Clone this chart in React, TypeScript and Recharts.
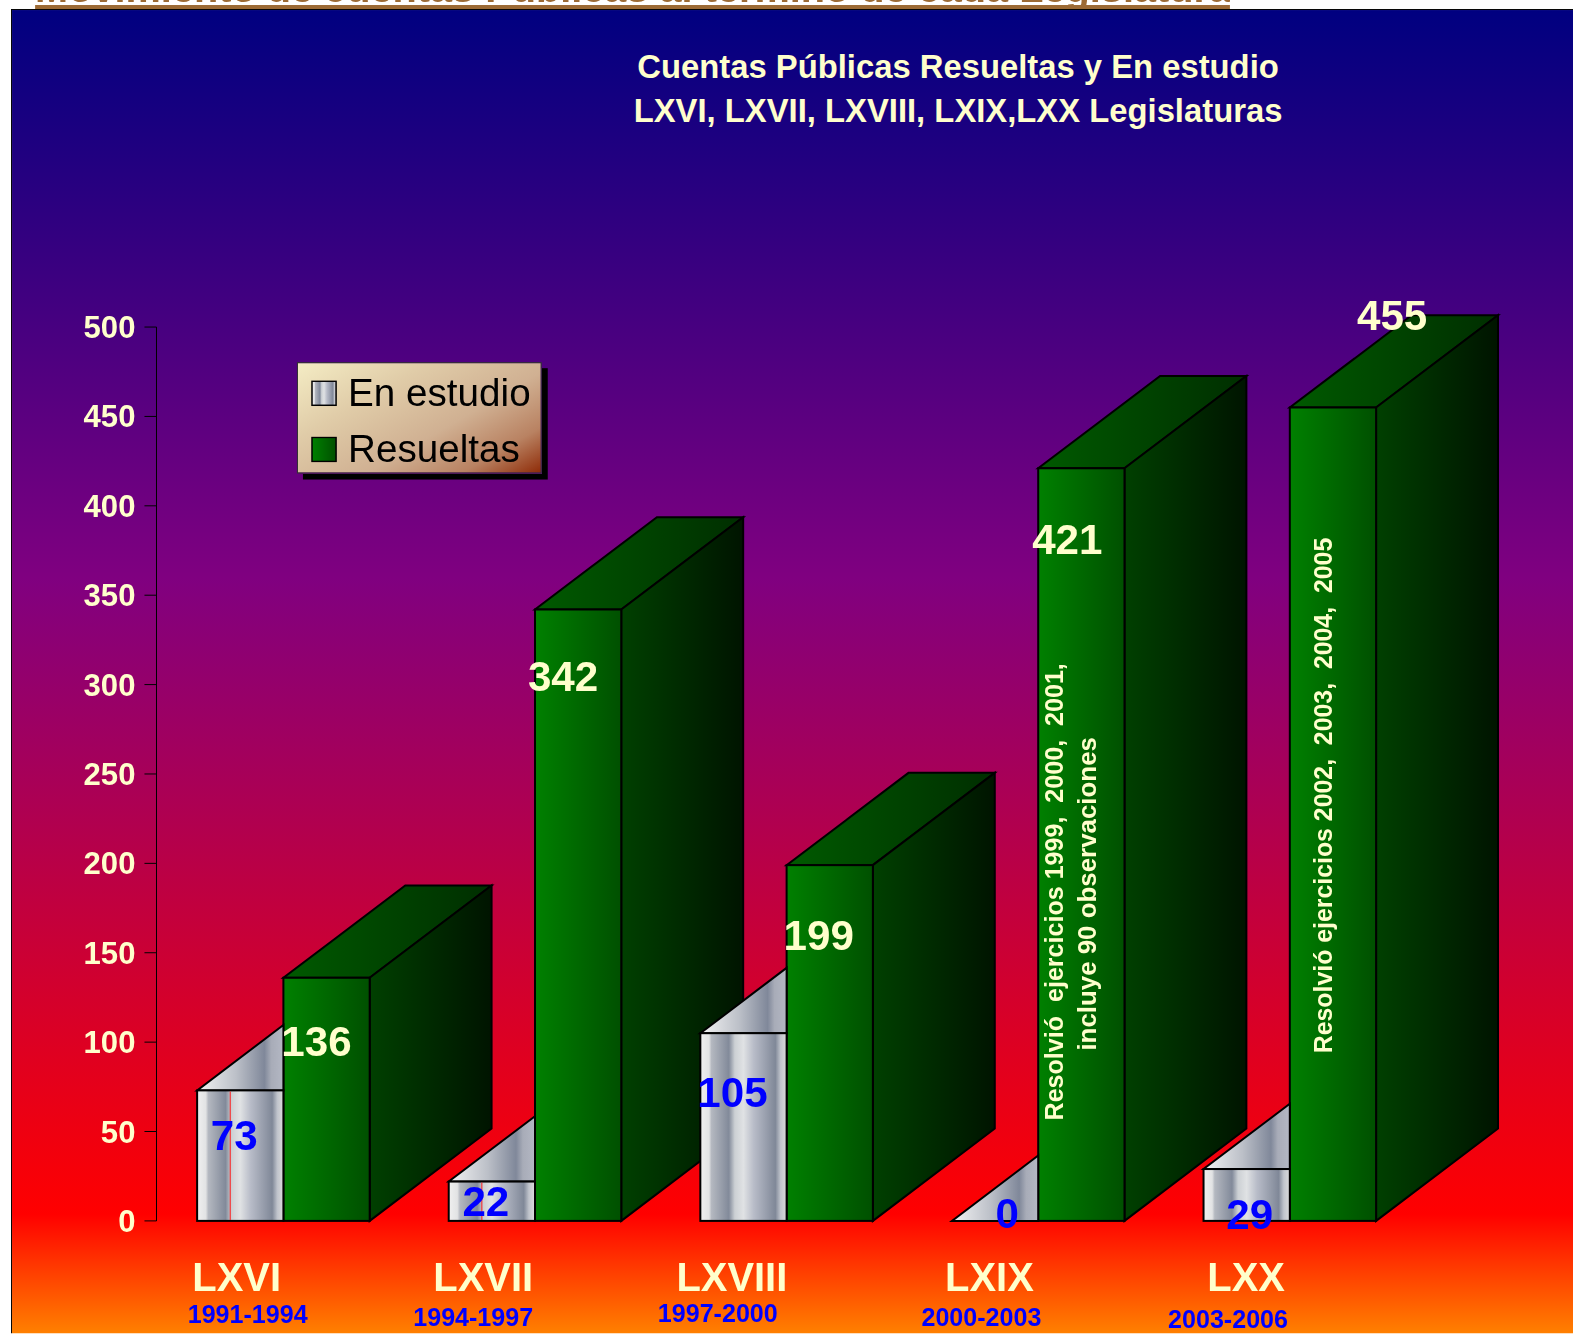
import React from "react";
import { BarChart, Bar, XAxis, YAxis, Legend, LabelList } from "recharts";

const legislatures = ["LXVI", "LXVII", "LXVIII", "LXIX", "LXX"];
const periods = ["1991-1994", "1994-1997", "1997-2000", "2000-2003", "2003-2006"];
const enEstudio = [73, 22, 105, 0, 29];
const resueltas = [136, 342, 199, 421, 455];
const yTicks = [0, 50, 100, 150, 200, 250, 300, 350, 400, 450, 500];
const seamed = ["LXVI", "LXVII"];
const titleLines = ["Cuentas Públicas Resueltas y En estudio", "LXVI, LXVII, LXVIII, LXIX,LXX Legislaturas"];
const headerText = "Movimiento de cuentas Públicas al término de cada Legislatura";
const noteCategories = ["LXIX", "LXIX", "LXX"];
const noteTexts = [
  "Resolvió  ejercicios 1999,  2000,  2001,",
  "incluye 90 observaciones",
  "Resolvió ejercicios 2002,  2003,  2004,  2005",
];

const data = legislatures.map((name, i) => ({
  name,
  period: periods[i],
  estudio: enEstudio[i],
  resueltas: resueltas[i],
}));

// layout only: offsets of hand-placed labels
const grayLabelOffsets = [[-6, 45], [-6, 20], [-11, 59], [12, -7], [3, 45]];
const greenLabelOffsets = [[-10, 64], [-15, 67], [-11, 70], [-14, 71], [59, -92]];
const catOffsets = [[-47, 56], [-52, 56], [-55, 56], [-49, 56], [-44, 56]];
const periodOffsets = [[-36, 93], [-62, 96], [-69, 92], [-57, 96], [-62, 98]];
const noteLayout = [
  { dx: -27.5, yMid: 889, size: 25 },
  { dx: 6, yMid: 891, size: 25.8 },
  { dx: -10, yMid: 793, size: 24.8 },
];

const FONT = "'Liberation Sans', Arial, sans-serif";
const CREAM = "#FFFFCC";
const DX = 121.5;
const DY = 92;

const pts = (a: number[][]) => a.map((p) => p.join(",")).join(" ");

function GreenBox(props: any) {
  const { x, y, width: w, height: h } = props;
  return (
    <g stroke="#000" strokeWidth={2} strokeLinejoin="miter">
      <polygon fill="url(#greenTop)" points={pts([[x, y], [x + w, y], [x + w + DX, y - DY], [x + DX, y - DY]])} />
      <polygon fill="url(#greenSide)" points={pts([[x + w, y], [x + w + DX, y - DY], [x + w + DX, y + h - DY], [x + w, y + h]])} />
      <rect x={x} y={y} width={w} height={h} fill="url(#greenFront)" />
    </g>
  );
}

function GrayBox(props: any) {
  const { x, y, width: w, height: h, payload } = props;
  const rise = (w * DY) / DX;
  return (
    <g stroke="#000" strokeWidth={2}>
      <polygon fill="url(#grayTop)" points={pts([[x, y], [x + w, y], [x + w, y - rise]])} />
      {h > 0 && <rect x={x} y={y} width={w} height={h} fill="url(#grayFront)" />}
      {h > 0 && seamed.includes(payload?.name) && (
        <line x1={x + 33} x2={x + 33} y1={y + 1} y2={y + h - 1} stroke="#ff2020" strokeWidth={1} />
      )}
    </g>
  );
}

const makeLabel = (offsets: number[][], fill: string, withNotes: boolean) => (props: any) => {
  const { x, y, width, value, index } = props;
  const [ox, oy] = offsets[index];
  const cx = x + width / 2;
  const cat = legislatures[index];
  return (
    <g>
      <text x={cx + ox} y={y + oy} fill={fill} fontFamily={FONT} fontWeight={700} fontSize={42} textAnchor="middle" dominantBaseline="central">
        {value}
      </text>
      {withNotes &&
        noteTexts.map((t, i) =>
          noteCategories[i] === cat ? (
            <text
              key={t}
              transform={`translate(${cx + noteLayout[i].dx},${noteLayout[i].yMid}) rotate(-90)`}
              fill={CREAM}
              fontFamily={FONT}
              fontWeight={700}
              fontSize={noteLayout[i].size}
              textAnchor="middle"
              dominantBaseline="central"
              style={{ whiteSpace: "pre" }}
            >
              {t}
            </text>
          ) : null
        )}
    </g>
  );
};

function XTick(props: any) {
  const { x, index } = props;
  const base = 1217;
  const [cx, cy] = catOffsets[index];
  const [px, py] = periodOffsets[index];
  return (
    <g fontFamily={FONT} fontWeight={700} textAnchor="middle" dominantBaseline="central">
      <text x={x + cx} y={base + cy} fill={CREAM} fontSize={39.8}>{legislatures[index]}</text>
      <text x={x + px} y={base + py} fill="#0000FF" fontSize={25}>{periods[index]}</text>
    </g>
  );
}

function LegendBox(props: any) {
  const items = [...(props.payload || [])].sort((a: any, b: any) => (a.value < b.value ? -1 : 1));
  return (
    <div
      style={{
        width: 244,
        height: 111,
        boxSizing: "border-box",
        border: "1.5px solid #333",
        background: "linear-gradient(150deg,#f4ecc4 0%,#e0cca8 30%,#d0b092 60%,#b98262 82%,#8f2c08 100%)",
        boxShadow: "6px 6px 0 #000",
        position: "relative",
        fontFamily: FONT,
        fontSize: 38.5,
        color: "#000",
      }}
    >
      {items.map((it: any, i: number) => (
        <div key={it.value} style={{ position: "absolute", left: 13, top: 7 + i * 56, height: 46, display: "flex", alignItems: "center", whiteSpace: "nowrap" }}>
          <svg width={26} height={26} style={{ marginRight: 11, display: "block" }}>
            <rect x={1} y={1} width={24} height={24} fill={it.color} stroke="#000" strokeWidth={1.5} />
          </svg>
          {it.value}
        </div>
      ))}
    </div>
  );
}

export default function App() {
  return (
    <div style={{ position: "absolute", left: 0, top: 0, width: 1573, height: 1334, background: "#fff", overflow: "hidden" }}>
      <div style={{ position: "absolute", left: 0, top: 0, width: 1568, height: 1330, transform: "scale(1.0032)", transformOrigin: "0 0" }}>
        <div style={{ position: "absolute", left: 35, top: 0, width: 1191, height: 5, overflow: "hidden" }}>
          <div style={{ position: "absolute", left: 0, bottom: -3, whiteSpace: "nowrap", fontFamily: FONT, fontWeight: 700, fontSize: 39.6, lineHeight: "40px", color: "#9c6a34" }}>
            {headerText}
          </div>
        </div>
        <div style={{ position: "absolute", left: 35, top: 5, width: 1191, height: 4, background: "#9c6a34" }} />
        <div
          style={{
            position: "absolute",
            left: 11,
            top: 9,
            width: 1557,
            height: 1320,
            boxSizing: "border-box",
            borderLeft: "1px solid #000",
            borderTop: "1px solid #000",
            background: "linear-gradient(180deg,#000080 0%,#800080 43%,#ff0000 91%,#ff8000 100%)",
          }}
        />
        <div style={{ position: "absolute", left: 555, width: 800, top: 45, textAlign: "center", fontFamily: FONT, fontWeight: 700, fontSize: 32.7, lineHeight: "44px", color: CREAM }}>
          {titleLines.map((t) => (
            <div key={t}>{t}</div>
          ))}
        </div>
        <div style={{ position: "absolute", left: 0, top: 0 }}>
          <BarChart
            width={1568}
            height={1330}
            data={data}
            margin={{ top: 326, right: 156.5, left: 0, bottom: 0 }}
            barSize={86}
            barGap={-172}
            barCategoryGap={0}
          >
            <defs>
              <linearGradient id="greenFront" x1="0" x2="1" y1="0" y2="0">
                <stop offset="0" stopColor="#008000" />
                <stop offset="1" stopColor="#005000" />
              </linearGradient>
              <linearGradient id="greenTop" x1="0" x2="1" y1="0" y2="0">
                <stop offset="0" stopColor="#005a00" />
                <stop offset="1" stopColor="#002e00" />
              </linearGradient>
              <linearGradient id="greenSide" x1="0" x2="1" y1="0" y2="0">
                <stop offset="0" stopColor="#004000" />
                <stop offset="1" stopColor="#001400" />
              </linearGradient>
              <linearGradient id="grayFront" x1="0" x2="1" y1="0" y2="0">
                <stop offset="0" stopColor="#f0f0f0" />
                <stop offset="0.1" stopColor="#e2e3e4" />
                <stop offset="0.13" stopColor="#b4b8c0" />
                <stop offset="0.33" stopColor="#828a9a" />
                <stop offset="0.4" stopColor="#ccd0d4" />
                <stop offset="0.5" stopColor="#e0e2e4" />
                <stop offset="0.62" stopColor="#b8bcc8" />
                <stop offset="0.87" stopColor="#808898" />
                <stop offset="0.93" stopColor="#c0c4cc" />
                <stop offset="1" stopColor="#dcdcdc" />
              </linearGradient>
              <linearGradient id="grayTop" x1="0" x2="1" y1="0" y2="0">
                <stop offset="0" stopColor="#f4f4f4" />
                <stop offset="0.45" stopColor="#bcc0c8" />
                <stop offset="0.78" stopColor="#80889a" />
                <stop offset="0.86" stopColor="#a8acb8" />
                <stop offset="1" stopColor="#b4b8c4" />
              </linearGradient>
            </defs>
            <XAxis dataKey="name" axisLine={false} tickLine={false} height={113} interval={0} padding={{ left: 1.5, right: 0 }} tick={<XTick />} />
            <YAxis
              width={156}
              domain={[0, 500]}
              ticks={yTicks}
              interval={0}
              stroke="#000"
              tickSize={12}
              tickMargin={9}
              tick={{ fill: CREAM, fontFamily: FONT, fontWeight: 700, fontSize: 31 }}
            />
            <Legend
              layout="horizontal"
              verticalAlign="middle"
              align="center"
              content={<LegendBox />}
              wrapperStyle={{ position: "absolute", left: 296, top: 361, width: 244, height: 111 }}
            />
            <Bar dataKey="resueltas" name="Resueltas" fill="url(#greenFront)" shape={<GreenBox />} isAnimationActive={false}>
              <LabelList dataKey="resueltas" content={makeLabel(greenLabelOffsets, CREAM, true)} />
            </Bar>
            <Bar dataKey="estudio" name="En estudio" fill="url(#grayFront)" shape={<GrayBox />} isAnimationActive={false}>
              <LabelList dataKey="estudio" content={makeLabel(grayLabelOffsets, "#0000FF", false)} />
            </Bar>
          </BarChart>
        </div>
      </div>
    </div>
  );
}
